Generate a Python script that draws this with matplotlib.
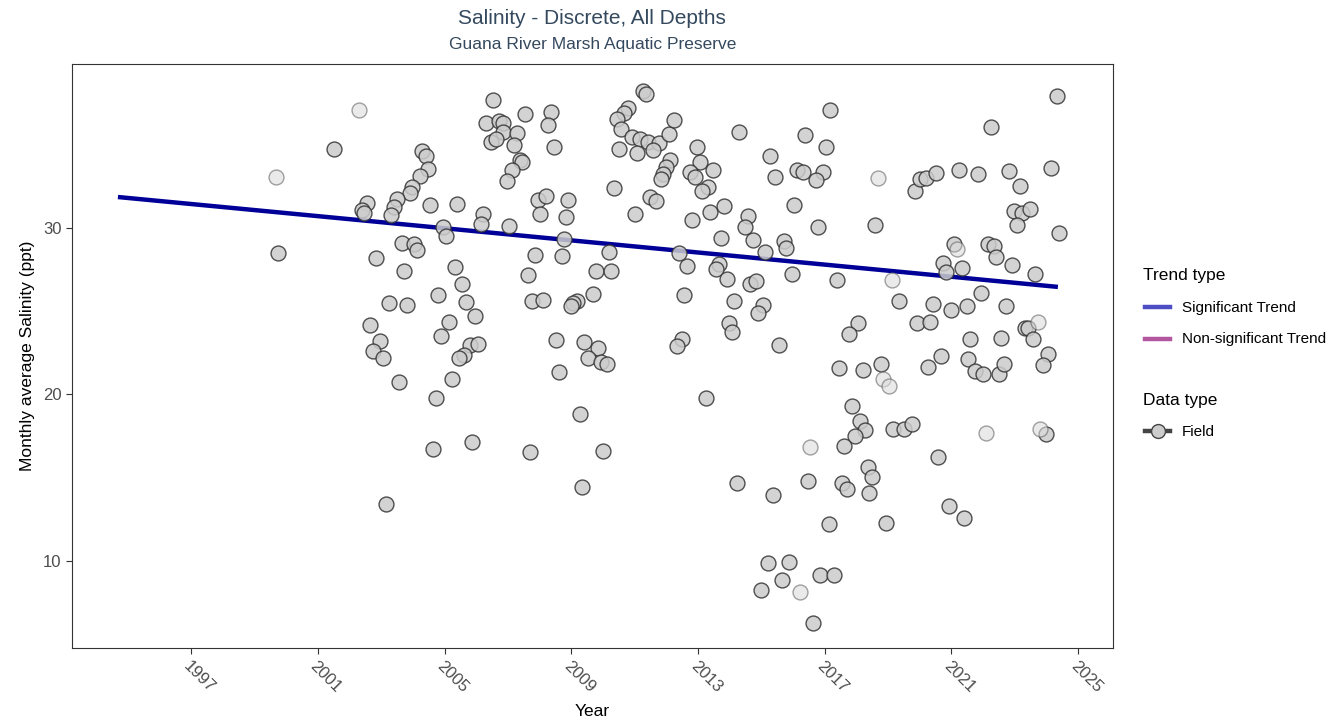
"""Monthly average salinity scatter with trend line (Guana River Marsh AP)."""
import matplotlib
matplotlib.use("Agg")
import matplotlib.pyplot as plt
from matplotlib.lines import Line2D

FONT = ["Liberation Sans", "DejaVu Sans"]
TITLE_COL = "#34495e"
W, H = 1340, 725

# monthly means, decimal year / ppt
yr = [2001.49, 1999.74, 2004.29, 2004.40, 2004.48, 2004.22, 2003.97, 2003.90, 2003.48, 2003.39,
      2003.30, 2002.56, 2002.38, 2002.46, 2004.54, 2005.38, 2004.96, 2005.05, 2003.64, 2004.04,
      2004.13, 2002.82, 2003.72, 2005.32, 2005.54, 2005.68, 2004.79, 2003.23, 2003.80, 2005.95,
      2002.65, 2005.12, 2004.88, 2002.97, 2002.73, 2003.06, 2005.79, 2006.06, 2005.61, 2005.44,
      2003.55, 2005.22, 2004.71, 2005.87, 2004.64, 2003.14,
      2006.53, 2007.53, 2008.35, 2006.29, 2006.71, 2006.83, 2006.85, 2007.29, 2008.27, 2006.46,
      2006.62, 2007.19, 2008.44, 2007.36, 2007.45, 2007.12, 2006.95, 2007.93, 2008.19, 2008.90,
      2006.20, 2006.13, 2007.03, 2008.01, 2008.83, 2008.76, 2007.85, 2008.70, 2007.62, 2007.77,
      2008.11, 2008.51, 2008.60, 2007.69,
      2011.25, 2011.34, 2010.79, 2010.67, 2010.43, 2010.58, 2010.90, 2011.16, 2011.41, 2011.78,
      2011.58, 2012.08, 2012.24, 2010.50, 2011.08, 2012.11, 2011.98, 2011.89, 2011.84, 2010.34,
      2011.48, 2011.67, 2011.00, 2010.18, 2009.76, 2010.25, 2009.67, 2009.16, 2009.06, 2008.98,
      2009.40, 2009.85, 2009.53, 2009.92, 2010.11, 2009.27, 2010.00, 2009.34,
      2012.98, 2014.30, 2015.27, 2013.06, 2012.74, 2012.90, 2013.48, 2013.32, 2013.13, 2015.42,
      2012.81, 2013.39, 2013.81, 2014.56, 2014.48, 2014.72, 2013.72, 2015.11, 2012.39, 2012.66,
      2013.66, 2013.56, 2013.90, 2014.64, 2014.82, 2014.13, 2012.55, 2015.04, 2014.88, 2013.97,
      2014.06, 2012.48, 2012.32, 2013.24, 2014.22, 2015.36,
      2016.37, 2017.04, 2016.11, 2016.30, 2016.95, 2016.71, 2016.03, 2016.79, 2018.58, 2015.71,
      2015.79, 2015.95, 2017.37, 2018.06, 2017.77, 2015.54, 2017.45, 2018.20, 2017.87, 2018.11,
      2018.28, 2017.95, 2017.61, 2018.35, 2018.49, 2017.53, 2017.70, 2016.46, 2018.39, 2017.12,
      2015.21, 2015.88, 2015.00, 2015.64, 2016.86, 2017.28, 2016.62, 2017.16,
      2019.85, 2020.00, 2020.19, 2020.51, 2021.23, 2021.09, 2020.74, 2020.82, 2021.33, 2019.35,
      2020.42, 2020.99, 2021.48, 2019.92, 2020.33, 2021.58, 2020.67, 2021.53, 2021.74, 2018.76,
      2020.26, 2019.16, 2019.51, 2019.76, 2020.59, 2018.94, 2020.91, 2021.41,
      2024.32, 2022.25, 2021.83, 2022.82, 2024.14, 2023.15, 2022.98, 2023.23, 2023.49, 2023.08,
      2024.39, 2022.16, 2022.34, 2022.40, 2022.90, 2023.64, 2021.92, 2022.73, 2023.32, 2023.42,
      2023.56, 2022.57, 2022.00, 2022.50, 2022.66, 2024.05, 2023.90, 2023.98]
sal = [34.74, 28.52, 34.62, 34.32, 33.53, 33.14, 32.44, 32.08, 31.72, 31.24,
       30.78, 31.52, 31.08, 30.90, 31.36, 31.44, 30.08, 29.52, 29.12, 29.04,
       28.68, 28.20, 27.42, 27.66, 26.62, 25.57, 25.99, 25.48, 25.39, 24.73,
       24.17, 24.34, 23.53, 23.21, 22.63, 22.17, 22.95, 23.05, 22.35, 22.17,
       20.75, 20.91, 19.79, 17.17, 16.71, 13.42,
       37.69, 36.83, 36.95, 36.29, 36.44, 36.29, 35.75, 35.72, 36.17, 35.15,
       35.36, 34.97, 34.88, 34.08, 33.95, 33.48, 32.82, 31.68, 31.94, 31.68,
       30.86, 30.24, 30.12, 30.84, 30.64, 29.34, 28.38, 28.34, 27.16, 25.60,
       25.66, 23.29, 21.37, 16.56,
       38.25, 38.03, 37.19, 36.89, 36.55, 35.95, 35.48, 35.35, 35.15, 35.09,
       34.68, 35.62, 36.49, 34.73, 34.49, 34.11, 33.66, 33.24, 32.96, 32.38,
       31.88, 31.64, 30.82, 28.58, 27.42, 27.42, 26.05, 25.62, 25.48, 25.32,
       23.14, 22.77, 22.17, 21.97, 21.83, 18.81, 16.59, 14.46,
       34.85, 35.75, 34.32, 33.98, 33.38, 33.06, 33.48, 32.44, 32.24, 33.08,
       30.48, 30.96, 31.32, 30.72, 30.08, 29.28, 29.40, 28.54, 28.52, 27.74,
       27.86, 27.54, 26.92, 26.64, 26.84, 25.63, 25.98, 25.36, 24.91, 24.28,
       23.75, 23.32, 22.91, 19.79, 14.70, 13.96,
       35.59, 34.85, 33.48, 33.38, 33.38, 32.88, 31.36, 30.04, 30.18, 29.22,
       28.78, 27.22, 26.86, 24.29, 23.62, 22.97, 21.61, 21.47, 19.33, 18.41,
       17.87, 17.53, 16.89, 15.65, 15.05, 14.67, 14.31, 14.80, 14.11, 12.22,
       9.90, 9.96, 8.26, 8.86, 9.16, 9.16, 6.29, 37.09,
       32.24, 32.94, 33.02, 33.29, 33.50, 29.02, 27.88, 27.38, 27.60, 25.63,
       25.45, 25.06, 25.32, 24.29, 24.34, 23.32, 22.29, 22.11, 21.41, 21.83,
       21.63, 17.91, 17.91, 18.25, 16.23, 12.26, 13.30, 12.58,
       37.93, 36.08, 33.23, 33.44, 33.59, 32.52, 31.02, 30.88, 31.12, 30.16,
       29.68, 29.04, 28.92, 28.28, 27.78, 27.26, 26.10, 25.30, 23.98, 23.98,
       23.33, 23.38, 21.21, 21.23, 21.85, 22.45, 21.77, 17.61]

# months drawn paler in the original
yr_pale = [2002.30, 1999.66, 2016.54, 2016.21, 2018.69, 2021.16, 2019.11, 2018.84, 2019.02,
           2023.73, 2022.08, 2023.79]
sal_pale = [37.09, 33.05, 16.85, 8.16, 33.02, 28.74, 26.88, 20.91, 20.53,
            24.34, 17.67, 17.91]

# significant trend line end points
trend_yr = [1994.68, 2024.36]
trend_sal = [31.86, 26.46]

XTICKS = [1997, 2001, 2005, 2009, 2013, 2017, 2021, 2025]
YTICKS = [10, 20, 30]


def fx(px):
    return px / W


def fy(py):
    return 1 - py / H


def key_line(fig, y, color):
    fig.add_artist(Line2D([fx(1145), fx(1170)], [fy(y), fy(y)], color=color, lw=3.2,
                          transform=fig.transFigure))


def main():
    plt.rcParams["font.family"] = FONT
    fig = plt.figure(figsize=(W / 100, H / 100), dpi=100)
    ax = fig.add_axes([fx(72), fy(648), fx(1113) - fx(72), fy(64) - fy(648)])

    ax.plot(trend_yr, trend_sal, color="#000099", lw=3.2, zorder=1, solid_capstyle="butt")
    ax.scatter(yr, sal, s=115, facecolor="#cccccc", edgecolor="#333333", lw=1.0,
               alpha=0.85, zorder=2)
    ax.scatter(yr_pale, sal_pale, s=115, facecolor="#dddddd", edgecolor="#666666", lw=1.0,
               alpha=0.6, zorder=2)

    ax.set_xlim(1993.23, 2026.1)
    ax.set_ylim(4.77, 39.85)
    ax.set_xticks(XTICKS)
    ax.set_xticklabels([str(t) for t in XTICKS], rotation=-45, ha="left", va="top",
                       rotation_mode="anchor")
    ax.set_yticks(YTICKS)
    ax.tick_params(colors="#333333", labelcolor="#4d4d4d", labelsize=12, length=4, width=0.8)
    for s in ax.spines.values():
        s.set_color("#333333"); s.set_linewidth(0.8)
    ax.set_xlabel("Year", fontsize=12.5, labelpad=6)
    ax.set_ylabel("Monthly average Salinity (ppt)", fontsize=12.5, labelpad=6)

    fig.text(fx(592), fy(18), "Salinity - Discrete, All Depths", ha="center", va="center",
             fontsize=15, color=TITLE_COL)
    fig.text(fx(593), fy(45), "Guana River Marsh Aquatic Preserve", ha="center",
             va="center", fontsize=12.5, color=TITLE_COL)

    # legend, laid out by hand
    fig.text(fx(1143), fy(276), "Trend type", ha="left", va="center", fontsize=12.5)
    key_line(fig, 307, "#4d4dc4")
    fig.text(fx(1182), fy(308), "Significant Trend", ha="left", va="center", fontsize=11)
    key_line(fig, 339, "#b2579f")
    fig.text(fx(1182), fy(339), "Non-significant Trend", ha="left", va="center", fontsize=11)

    fig.text(fx(1143), fy(400), "Data type", ha="left", va="center", fontsize=12.5)
    key_line(fig, 431, "#444444")
    fig.add_artist(Line2D([fx(1157.5)], [fy(431)], marker="o", ms=10, ls="none",
                          markerfacecolor="#cccccc", markeredgecolor="#444444",
                          transform=fig.transFigure))
    fig.text(fx(1182), fy(432), "Field", ha="left", va="center", fontsize=11)

    fig.savefig("out.png", dpi=100)
    plt.close(fig)


if __name__ == "__main__":
    main()
